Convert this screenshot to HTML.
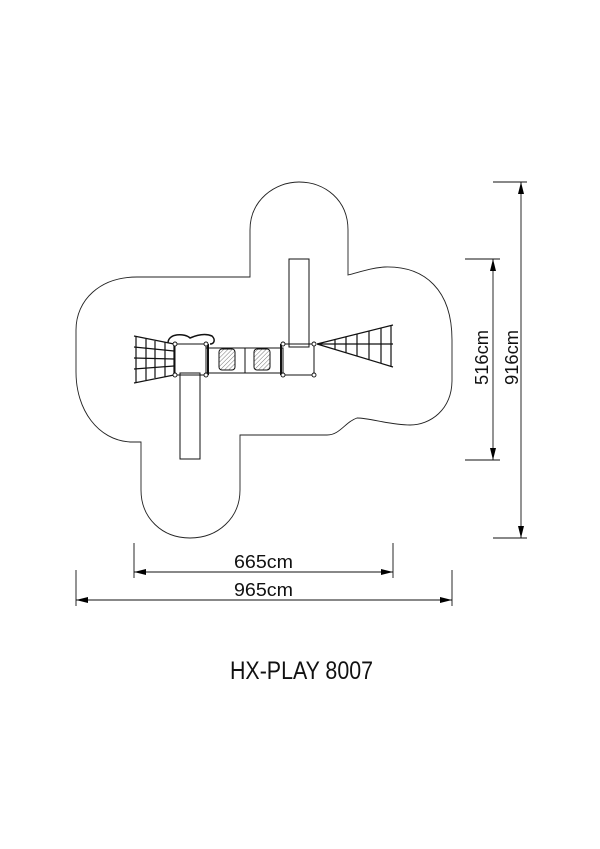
<!DOCTYPE html>
<html><head><meta charset="utf-8"><style>html,body{margin:0;padding:0;background:#fff}svg{display:block}</style></head>
<body>
<svg width="600" height="849" viewBox="0 0 600 849" xmlns="http://www.w3.org/2000/svg" style="font-family:'Liberation Sans',sans-serif">
<defs>
<pattern id="h" width="3" height="3" patternUnits="userSpaceOnUse" patternTransform="rotate(45)"><line x1="0" y1="0" x2="0" y2="3" stroke="#777" stroke-width="1"/></pattern>
<marker id="a" markerWidth="12" markerHeight="6" refX="12" refY="3" orient="auto-start-reverse" markerUnits="userSpaceOnUse"><path d="M0,0 L12,3 L0,6 Z" fill="#000"/></marker>
</defs>
<g fill="none" stroke="#222" stroke-width="0.9">
<path d="M250,277 L250,230 C250,200 275,182 299,182 C325,182 348,200 348,230 L348,275 C360,272 370,268 385,267 C425,266 452,290 452,340 L452,380 C452,410 430,425 410,425 C390,425 370,418 357,418 C345,422 340,435 327,435 L240,435 L240,490 C240,518 218,538 190,538 C162,538 141,518 141,490 L141,442 L130,442 C98,440 76,410 76,372 L76,330 C76,300 100,277 137,277 Z"/>
</g>
<g fill="none" stroke="#111" stroke-width="1">
<rect x="289" y="259" width="20" height="88"/>
<path d="M283,344 L314,344 L314,375 L283,375"/>
<rect x="206" y="348" width="77" height="25"/>
<line x1="245" y1="348" x2="245" y2="373"/>
<rect x="219" y="349" width="16" height="21" rx="3" fill="url(#h)"/>
<rect x="254" y="349" width="16" height="21" rx="3" fill="url(#h)"/>
<line x1="208" y1="344" x2="208" y2="375" stroke-width="2"/>
<line x1="281" y1="344" x2="281" y2="375" stroke-width="2"/>
<rect x="175" y="344" width="31" height="31"/>
<path d="M168,343 C168,333 185,333 190,338 C197,335 205,333 212,336 C216,340 214,344 210,344" stroke-width="1.5"/>
<rect x="180" y="373" width="20" height="86"/>
<path d="M134,336 L174,344 M134,383 L174,375" stroke-width="1.2"/>
<path d="M136,337 V382 M146,339 V380 M155,341 V378 M165,342 V377 M174,344 V375" stroke-width="1.2"/>
<path d="M134,347 L174,351 M134,358 L174,359 M134,369 L174,366" stroke-width="1.2"/>
<path d="M317,344 L393,325 M317,344 L393,367 M317,344 L393,344" stroke-width="1.2"/>
<path d="M335,340 V349 M346,337 V353 M357,334 V356 M369,331 V360 M381,328 V363 M391,325 V367" stroke-width="1.2"/>
</g>
<g fill="#fff" stroke="#111" stroke-width="0.9">
<circle cx="175" cy="344" r="2"/><circle cx="175" cy="375" r="2"/><circle cx="206" cy="344" r="2"/><circle cx="206" cy="375" r="2"/>
<circle cx="283" cy="344" r="2"/><circle cx="283" cy="375" r="2"/><circle cx="314" cy="344" r="2"/><circle cx="314" cy="375" r="2"/>
</g>
<g stroke="#111" stroke-width="0.9" fill="none">
<line x1="493" y1="182" x2="527" y2="182"/><line x1="493" y1="538" x2="527" y2="538"/>
<line x1="521" y1="182" x2="521" y2="538" marker-start="url(#a)" marker-end="url(#a)"/>
<line x1="465" y1="259" x2="500" y2="259"/><line x1="465" y1="460" x2="500" y2="460"/>
<line x1="493" y1="259" x2="493" y2="460" marker-start="url(#a)" marker-end="url(#a)"/>
<line x1="134" y1="543" x2="134" y2="578"/><line x1="393" y1="543" x2="393" y2="578"/>
<line x1="134" y1="572" x2="393" y2="572" marker-start="url(#a)" marker-end="url(#a)"/>
<line x1="76" y1="570" x2="76" y2="606"/><line x1="452" y1="570" x2="452" y2="606"/>
<line x1="76" y1="600" x2="452" y2="600" marker-start="url(#a)" marker-end="url(#a)"/>
</g>
<g fill="#111" font-size="18">
<text x="234" y="568" textLength="59" lengthAdjust="spacingAndGlyphs">665cm</text>
<text x="234" y="596" textLength="59" lengthAdjust="spacingAndGlyphs">965cm</text>
<text transform="translate(488,385) rotate(-90)" textLength="55" lengthAdjust="spacingAndGlyphs">516cm</text>
<text transform="translate(518,385) rotate(-90)" textLength="55" lengthAdjust="spacingAndGlyphs">916cm</text>
<text x="230" y="679" font-size="25" textLength="143" lengthAdjust="spacingAndGlyphs">HX-PLAY 8007</text>
</g>
</svg>
</body></html>
